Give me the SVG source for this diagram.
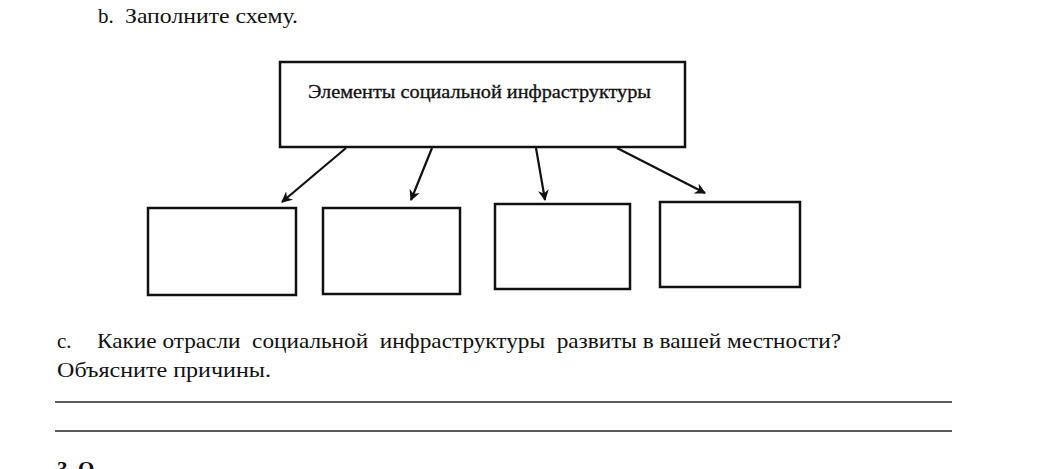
<svg xmlns="http://www.w3.org/2000/svg" width="1044" height="469" viewBox="0 0 1044 469">
<defs>
<style>
text{font-family:"Liberation Serif","DejaVu Serif",serif;fill:#111;}
.box{fill:#fff;stroke:#111;stroke-width:2.5;}
.con{stroke:#111;stroke-width:2.2;fill:none;marker-end:url(#ah);}
.rule{stroke:#222;stroke-width:1.6;}
</style>
<marker id="ah" viewBox="0 0 10 10" refX="9" refY="5" markerWidth="5" markerHeight="5" orient="auto" markerUnits="strokeWidth">
<path d="M0,0 L10,5 L0,10 L3,5 Z" fill="#111"/>
</marker>
</defs>
<rect width="1044" height="469" fill="#fff"/>
<text x="98" y="23" font-size="21">b.</text>
<text x="125" y="23" font-size="21" textLength="173" lengthAdjust="spacingAndGlyphs">Заполните схему.</text>

<g id="root">
<rect class="box" x="280" y="62" width="405" height="85"/>
<text x="308" y="98" font-size="18" textLength="343" lengthAdjust="spacingAndGlyphs" stroke="#111" stroke-width="0.3">Элементы социальной инфраструктуры</text>
</g>
<g id="box1"><rect class="box" x="148" y="208" width="148" height="87"/></g>
<g id="box2"><rect class="box" x="323" y="208" width="137" height="86"/></g>
<g id="box3"><rect class="box" x="495" y="204" width="135" height="85"/></g>
<g id="box4"><rect class="box" x="660" y="202" width="140" height="85"/></g>

<g id="connectors">
<line class="con" x1="346" y1="148" x2="282" y2="202"/>
<line class="con" x1="432" y1="148" x2="411" y2="200"/>
<line class="con" x1="536" y1="148" x2="545" y2="200"/>
<line class="con" x1="617" y1="148" x2="705" y2="193"/>
</g>

<text x="57" y="348" font-size="21">c.</text>
<text x="97" y="348" font-size="21" textLength="744" lengthAdjust="spacingAndGlyphs" xml:space="preserve">Какие отрасли  социальной  инфраструктуры  развиты в вашей местности?</text>
<text x="57" y="377" font-size="21" textLength="214" lengthAdjust="spacingAndGlyphs">Объясните причины.</text>
<line class="rule" x1="55" y1="402" x2="952" y2="402"/>
<line class="rule" x1="55" y1="431" x2="952" y2="431"/>
<text x="57" y="476" font-size="21" font-weight="bold">3. О</text>
</svg>
